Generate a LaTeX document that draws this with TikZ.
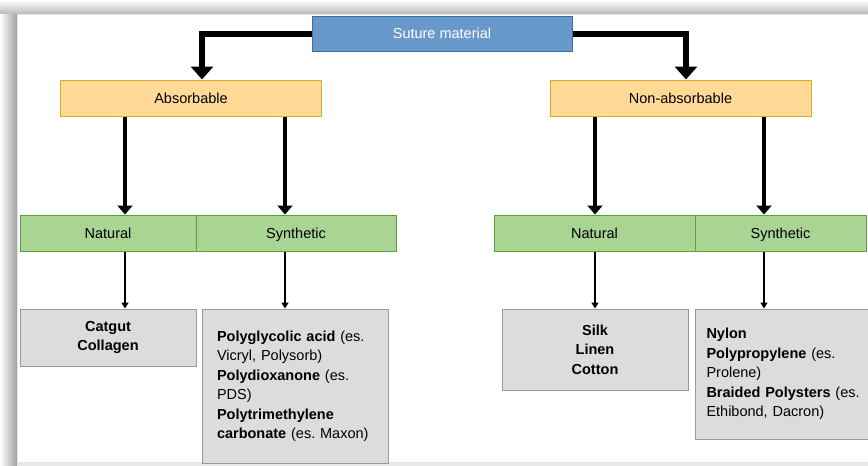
\documentclass[tikz,border=0pt]{standalone}
\usepackage{fontspec}
\setmainfont{Liberation Sans}
\usetikzlibrary{arrows.meta}
\definecolor{sutureblue}{HTML}{6799CB}
\definecolor{sutureedge}{HTML}{3F6E9E}
\definecolor{groupfill}{HTML}{FFDA96}
\definecolor{groupedge}{HTML}{DDAA2E}
\definecolor{kindfill}{HTML}{A9D493}
\definecolor{kindedge}{HTML}{5E9E3E}
\definecolor{listfill}{HTML}{DCDCDC}
\definecolor{listedge}{HTML}{999999}

\begin{document}
\begin{tikzpicture}[x=1pt, y=-1pt,
    anybox/.style={draw, line width=1pt, inner sep=0pt, font=\fontsize{14.5}{19.5}\selectfont},
    onebox/.style={anybox, text height=12pt, text depth=1.6pt},
    topbox/.style={onebox, fill=sutureblue, draw=sutureedge, text=white, minimum width=260, minimum height=35},
    groupbox/.style={onebox, fill=groupfill, draw=groupedge, minimum width=261, minimum height=36},
    kindbox/.style={onebox, fill=kindfill, draw=kindedge, minimum height=36},
    listbox/.style={anybox, fill=listfill, draw=listedge},
    mainarrow/.style={line width=6pt, -{Triangle[width=22pt,length=13pt]}},
    splitarrow/.style={line width=4.5pt, -{Triangle[width=15pt,length=9pt]}},
    leafarrow/.style={line width=1.6pt, -{Triangle[width=7pt,length=6pt]}}]
                    % Frame:
                    \useasboundingbox (0,0) rectangle (868,466);
                    \clip (0,0) rectangle (868,466);
                    \shade[top color=white, bottom color=gray!55] (0,0) rectangle (868,14);
                    \shade[left color=white, right color=gray!75] (0,14) rectangle (17,466);
                    \fill[gray!18] (17,462) rectangle (868,466);
                    \draw[gray!20, fill=white] (17,14) rectangle (870,462);

                    % Boxes:
                    \node[topbox] (suture) at (442,33.5) {Suture material};
                    \node[groupbox] (absorb) at (191,98) {Absorbable};
                    \node[groupbox] (nonabs) at (680.5,98) {Non-absorbable};

                    \node[kindbox, minimum width=176] (natA) at (108,233) {Natural};
                    \node[kindbox, minimum width=200] (synA) at (296,233) {Synthetic};
                    \node[kindbox, minimum width=201] (natN) at (594.5,233) {Natural};
                    \node[kindbox, minimum width=171] (synN) at (780.5,233) {Synthetic};

                    \node[listbox, minimum width=176, minimum height=57, align=center] (catgut) at (108,337.5)
                         {\textbf{Catgut}\\\textbf{Collagen}};
                    \node[listbox, text width=156, inner xsep=15, minimum height=154, align=left] (synlistA) at (295,386)
                         {\textbf{Polyglycolic acid} (es.\\Vicryl, Polysorb)\\\textbf{Polydioxanone} (es.\\PDS)\\
                          \textbf{Polytrimethylene}\\\textbf{carbonate} (es.\ Maxon)};
                    \node[listbox, minimum width=186, minimum height=81, align=center] (silk) at (595,349.5)
                         {\textbf{Silk}\\\textbf{Linen}\\\textbf{Cotton}};
                    \node[listbox, text width=162, inner xsep=11, minimum height=130, align=left, anchor=west] (synlistN) at (695,374)
                         {\textbf{Nylon}\\\textbf{Polypropylene} (es.\\Prolene)\\\textbf{Braided Polysters} (es.\\Ethibond, Dacron)};

                    % Arrows:
                    \coordinate (xl) at (202,0);
                    \coordinate (xr) at (686,0);
                    \coordinate (xa) at (125,0);
                    \coordinate (xb) at (285,0);
                    \coordinate (xc) at (595,0);
                    \coordinate (xd) at (764,0);
                    \draw[mainarrow] (suture.west) -| (absorb.north -| xl);
                    \draw[mainarrow] (suture.east) -| (nonabs.north -| xr);

                    \draw[splitarrow] (absorb.south -| xa) -- (natA.north -| xa);
                    \draw[splitarrow] (absorb.south -| xb) -- (synA.north -| xb);
                    \draw[splitarrow] (nonabs.south -| xc) -- (natN.north -| xc);
                    \draw[splitarrow] (nonabs.south -| xd) -- (synN.north -| xd);

                    \draw[leafarrow] (natA.south -| xa) -- (catgut.north -| xa);
                    \draw[leafarrow] (synA.south -| xb) -- (synlistA.north -| xb);
                    \draw[leafarrow] (natN.south -| xc) -- (silk.north -| xc);
                    \draw[leafarrow] (synN.south -| xd) -- (synlistN.north -| xd);
                \end{tikzpicture}
\end{document}
